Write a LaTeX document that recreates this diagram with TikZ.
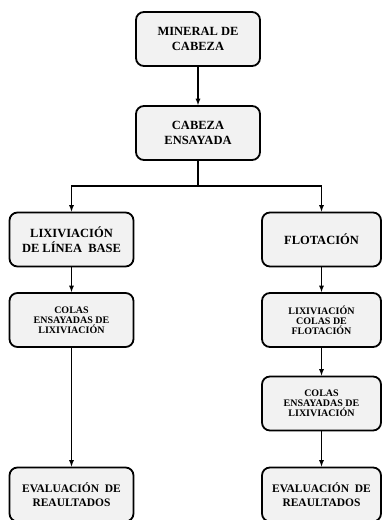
\documentclass[tikz,border=0pt]{standalone}
\usepackage{fontspec}
\setmainfont{Liberation Serif}
\usetikzlibrary{arrows,calc,positioning}
\tikzset{%
	proceso/.style = {draw, rectangle, rounded corners=8pt, line width=1.8pt, fill=gray!10, minimum width=124pt, minimum height=54pt, align=center, font=\fontsize{12.5}{15.5}\selectfont\bfseries},
	chico/.style   = {font=\fontsize{10}{9.8}\selectfont\bfseries},
	eval/.style    = {font=\fontsize{11.5}{14.5}\selectfont\bfseries},
	flecha/.style  = {line width=1.2pt,-latex},
}
\begin{document}
\begin{tikzpicture}[x=1pt,y=-1pt]
	\useasboundingbox (0,0) rectangle (382,520);
	
	\node[proceso] (mineral) at (198,39) {MINERAL DE\\CABEZA};
	\node[proceso] (ensayada) at (198,133) {CABEZA\\ENSAYADA};
	
	% rama izquierda
	\node[proceso] (base) at (71.5,239.5) {LIXIVIACIÓN\\DE LÍNEA\ \ BASE};
	\node[proceso,chico] (colasA) at (71.5,320) {COLAS\\ENSAYADAS DE\\LIXIVIACIÓN};
	\node[proceso,eval] (evalA) at (71.5,494.5) {EVALUACIÓN\ \ DE\\REAULTADOS};
	
	% rama derecha
	\node[proceso,minimum width=119pt] (flot) at (321.5,239.5) {FLOTACIÓN};
	\node[proceso,chico,minimum width=119pt] (lixflot) at (321.5,320) {LIXIVIACIÓN\\COLAS DE\\FLOTACIÓN};
	\node[proceso,chico,minimum width=119pt] (colasB) at (321.5,403.5) {COLAS\\ENSAYADAS DE\\LIXIVIACIÓN};
	\node[proceso,eval,minimum width=119pt] (evalB) at (321.5,494.5) {EVALUACIÓN\ \ DE\\REAULTADOS};
	
	\draw[flecha] (mineral) -- (ensayada);
	\draw[line width=1.2pt] (ensayada.south) -- ++(0,25) coordinate (rama);
	\draw[flecha] (rama) -| (base.north);
	\draw[flecha] (rama) -| (flot.north);
	\draw[flecha] (base) -- (colasA);
	\draw[flecha] (colasA) -- (evalA);
	\draw[flecha] (flot) -- (lixflot);
	\draw[flecha] (lixflot) -- (colasB);
	\draw[flecha] (colasB) -- (evalB);
	
\end{tikzpicture}
\end{document}
